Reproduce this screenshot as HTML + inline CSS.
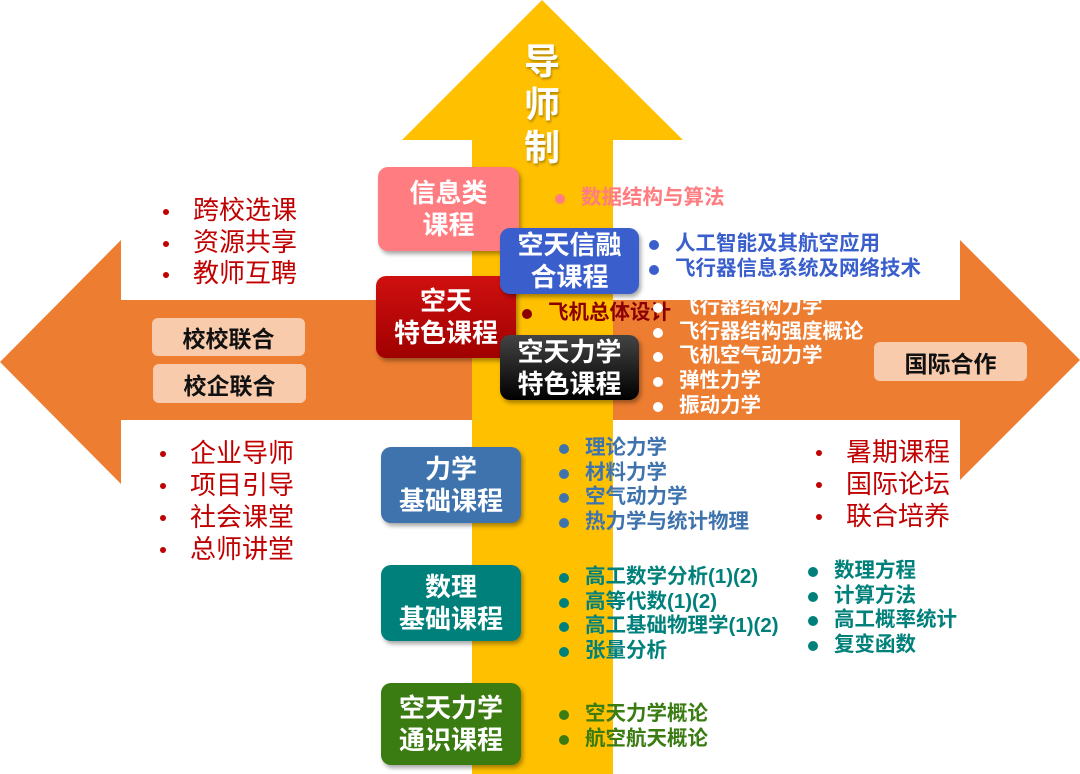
<!DOCTYPE html>
<html><head><meta charset="utf-8"><style>
body{margin:0;width:1080px;height:774px;position:relative;background:#fff;overflow:hidden;font-family:"Liberation Sans","Noto Sans CJK SC",sans-serif}
.a{position:absolute}
.box{position:absolute;border-radius:10px;color:#fff;font-weight:bold;font-size:26px;line-height:32px;text-align:center;display:flex;align-items:center;justify-content:center;box-shadow:2px 3px 4px rgba(0,0,0,.35)}
.l{position:absolute;font-weight:bold;font-size:20.5px;line-height:24.7px;white-space:nowrap}
.l div{position:relative;padding-left:26px}
.l div:before{content:"";position:absolute;left:0;top:8px;width:10px;height:10px;border-radius:50%;background:currentColor}
.r{position:absolute;font-size:26px;line-height:31.5px;color:#c00000;white-space:nowrap}
.r div{position:relative;padding-left:30px}
.r div:before{content:"";position:absolute;left:0;top:14px;width:6px;height:6px;border-radius:50%;background:#c00000}
.pb{position:absolute;background:#f8cbad;border-radius:6px;font-weight:bold;font-size:23px;display:flex;align-items:center;justify-content:center;color:#111}
</style></head><body>
<svg class="a" style="left:0;top:0" width="1080" height="774">
<polygon points="0,362 121,240 121,300 960,300 960,240 1080,360 960,480 960,420 121,420 121,484" fill="#ED7D31"/>
<polygon points="542,0 683,140 613,140 613,774 472,774 472,140 402,140" fill="#FFC000"/>
</svg>
<div class="a" style="left:518px;top:40px;width:48px;color:#fff;font-weight:bold;font-size:36px;line-height:43px;text-align:center;text-shadow:1px 2px 2px rgba(0,0,0,.3)">导<br>师<br>制</div>

<div class="box" style="left:378px;top:167px;width:141px;height:84px;background:#ff7c80">信息类<br>课程</div>
<div class="box" style="left:376px;top:276px;width:140px;height:82px;background:linear-gradient(#d01010,#a00000)">空天<br>特色课程</div>
<div class="box" style="left:500px;top:228px;width:139px;height:66px;background:#3a5fcd">空天信融<br>合课程</div>
<div class="box" style="left:500px;top:335px;width:139px;height:65px;background:linear-gradient(#444,#000)">空天力学<br>特色课程</div>
<div class="box" style="left:381px;top:447px;width:140px;height:76px;background:#3f73ad">力学<br>基础课程</div>
<div class="box" style="left:381px;top:565px;width:140px;height:76px;background:#00807a">数理<br>基础课程</div>
<div class="box" style="left:381px;top:683px;width:140px;height:82px;background:#3a7b12">空天力学<br>通识课程</div>

<div class="l" style="left:555px;top:186px;color:#ff7c80"><div>数据结构与算法</div></div>
<div class="l" style="left:649px;top:232px;color:#3a5fcd"><div>人工智能及其航空应用</div><div>飞行器信息系统及网络技术</div></div>
<div class="l" style="left:522px;top:301px;color:#8b0000"><div>飞机总体设计</div></div>
<div class="l" style="left:653px;top:295px;color:#fff"><div>飞行器结构力学</div><div>飞行器结构强度概论</div><div>飞机空气动力学</div><div>弹性力学</div><div>振动力学</div></div>
<div class="l" style="left:559px;top:436px;color:#3f73ad"><div>理论力学</div><div>材料力学</div><div>空气动力学</div><div>热力学与统计物理</div></div>
<div class="l" style="left:559px;top:565px;color:#00807a"><div>高工数学分析(1)(2)</div><div>高等代数(1)(2)</div><div>高工基础物理学(1)(2)</div><div>张量分析</div></div>
<div class="l" style="left:808px;top:559px;color:#00807a"><div>数理方程</div><div>计算方法</div><div>高工概率统计</div><div>复变函数</div></div>
<div class="l" style="left:559px;top:702px;color:#3a7b12"><div>空天力学概论</div><div>航空航天概论</div></div>

<div class="r" style="left:163px;top:195px"><div>跨校选课</div><div>资源共享</div><div>教师互聘</div></div>
<div class="r" style="left:160px;top:437px;line-height:32px"><div>企业导师</div><div>项目引导</div><div>社会课堂</div><div>总师讲堂</div></div>
<div class="r" style="left:816px;top:436px;line-height:32px"><div>暑期课程</div><div>国际论坛</div><div>联合培养</div></div>

<div class="pb" style="left:152px;top:318px;width:153px;height:38px">校校联合</div>
<div class="pb" style="left:153px;top:364px;width:153px;height:39px">校企联合</div>
<div class="pb" style="left:874px;top:342px;width:153px;height:39px">国际合作</div>
</body></html>
